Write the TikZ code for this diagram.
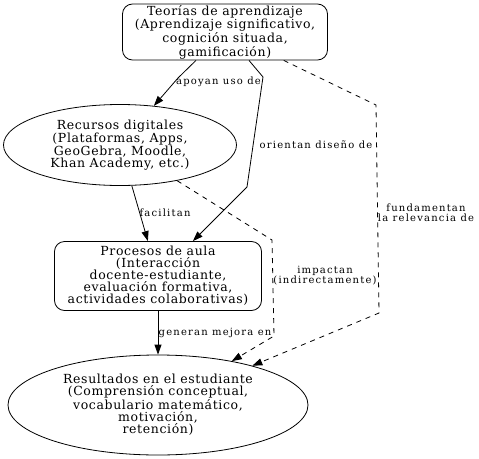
\documentclass[tikz,border=0pt]{standalone}
\usepackage{fontspec}
\setmainfont{DejaVu Serif}
\usetikzlibrary{shapes.geometric,arrows.meta}

\begin{document}
\begin{tikzpicture}[x=1pt,y=-1pt,line width=0.8pt,
    box/.style={draw,rounded corners=10pt,align=center,inner sep=0pt,
        font=\fontsize{12.5}{12}\selectfont\addfontfeature{LetterSpace=5}},
    oval/.style={draw,ellipse,align=center,inner sep=0pt,
        font=\fontsize{12.5}{12}\selectfont\addfontfeature{LetterSpace=5}},
    lbl/.style={align=center,inner sep=0pt,
        font=\fontsize{10}{10}\selectfont\addfontfeature{LetterSpace=12}},
    arr/.style={-{Triangle[length=10pt,width=7pt]}},
    weak/.style={arr,dash pattern=on 5pt off 5pt}]

    \useasboundingbox (0,0) rectangle (479,458);

    % Nodes
    \node[box,minimum width=205pt,minimum height=56pt] (teorias) at (225,32)
        {Teorías de aprendizaje\\(Aprendizaje significativo,\\cognición situada,\\gamificación)};
    \node[oval,minimum width=233pt,minimum height=81pt] (recursos) at (120,145)
        {Recursos digitales\\(Plataformas, Apps,\\GeoGebra, Moodle,\\Khan Academy, etc.)};
    \node[box,minimum width=207pt,minimum height=69pt] (procesos) at (158,276)
        {Procesos de aula\\(Interacción\\docente-estudiante,\\evaluación formativa,\\actividades colaborativas)};
    \node[oval,minimum width=300pt,minimum height=100pt] (resultados) at (158,405)
        {Resultados en el estudiante\\(Comprensión conceptual,\\vocabulario matemático,\\motivación,\\retención)};

    % Bends
    \coordinate (b1) at (178,78);
    \coordinate (b2) at (263,77);
    \coordinate (b3) at (247,187);
    \coordinate (b4) at (376,105);
    \coordinate (b5) at (379,313);
    \coordinate (b6) at (272,240);
    \coordinate (b7) at (274,336);

    % Edges
    \draw[arr] (teorias) -- (b1) -- (recursos);
    \draw[arr] (teorias) -- (b2) -- (b3) -- (procesos);
    \draw[weak] (teorias) -- (b4) -- (b5) -- (resultados);
    \draw[arr] (recursos) -- (procesos);
    \draw[weak] (recursos) -- (b6) -- (b7) -- (resultados);
    \draw[arr] (procesos) -- (resultados);

    % Edge labels
    \node[lbl] (lapoyan) at (218.5,82) {apoyan uso de};
    \node[lbl] (lorientan) at (316,145) {orientan diseño de};
    \node[lbl] (lfundamentan) at (426,213) {fundamentan\\la relevancia de};
    \node[lbl] (lfacilitan) at (165,213) {facilitan};
    \node[lbl] (limpactan) at (325,276) {impactan\\(indirectamente)};
    \node[lbl] (lgeneran) at (215,333) {generan mejora en};
\end{tikzpicture}
\end{document}
